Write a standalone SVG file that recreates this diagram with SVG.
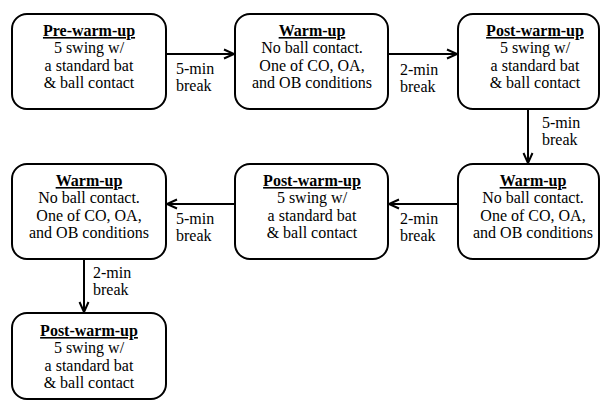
<svg xmlns="http://www.w3.org/2000/svg" width="600" height="401" viewBox="0 0 600 401" font-family="Times New Roman">
<rect width="600" height="401" fill="#fff"/>
<g id="connectors" fill="none" stroke="#000" stroke-width="2">
<line x1="166" y1="54" x2="234" y2="54"/>
<polyline points="224,49.5 234,54 224,58.5"/>
<line x1="388" y1="54" x2="457" y2="54"/>
<polyline points="447,49.5 457,54 447,58.5"/>
<line x1="528" y1="109" x2="528" y2="163"/>
<polyline points="523.5,153 528,163 532.5,153"/>
<line x1="458" y1="204" x2="389" y2="204"/>
<polyline points="399,199.5 389,204 399,208.5"/>
<line x1="235" y1="204" x2="167" y2="204"/>
<polyline points="177,199.5 167,204 177,208.5"/>
<line x1="84" y1="259" x2="84" y2="312"/>
<polyline points="79.5,302 84,312 88.5,302"/>
</g>
<g id="labels">
<text font-family="Times New Roman" font-size="16" x="176" y="74">5-min</text>
<text font-family="Times New Roman" font-size="16" x="176" y="91">break</text>
<text font-family="Times New Roman" font-size="16" x="400" y="75">2-min</text>
<text font-family="Times New Roman" font-size="16" x="400" y="92">break</text>
<text font-family="Times New Roman" font-size="16" x="542" y="128">5-min</text>
<text font-family="Times New Roman" font-size="16" x="542" y="145">break</text>
<text font-family="Times New Roman" font-size="16" x="400" y="224">2-min</text>
<text font-family="Times New Roman" font-size="16" x="400" y="241">break</text>
<text font-family="Times New Roman" font-size="16" x="176" y="224">5-min</text>
<text font-family="Times New Roman" font-size="16" x="176" y="241">break</text>
<text font-family="Times New Roman" font-size="16" x="93" y="278">2-min</text>
<text font-family="Times New Roman" font-size="16" x="93" y="295">break</text>
</g>
<g id="n1">
<rect x="12" y="14" width="154" height="95" rx="15" fill="#fff" stroke="#000" stroke-width="2"/>
<text font-family="Times New Roman" font-size="16" text-anchor="middle" font-weight="bold" text-decoration="underline" x="89" y="36">Pre-warm-up</text>
<text font-family="Times New Roman" font-size="16" text-anchor="middle" x="89" y="53">5 swing w/</text>
<text font-family="Times New Roman" font-size="16" text-anchor="middle" x="89" y="70.5">a standard bat</text>
<text font-family="Times New Roman" font-size="16" text-anchor="middle" x="89" y="88">&amp; ball contact</text>
</g>
<g id="n2">
<rect x="235" y="14" width="153" height="95" rx="15" fill="#fff" stroke="#000" stroke-width="2"/>
<text font-family="Times New Roman" font-size="16" text-anchor="middle" font-weight="bold" text-decoration="underline" x="312" y="36">Warm-up</text>
<text font-family="Times New Roman" font-size="16" text-anchor="middle" x="312" y="53">No ball contact.</text>
<text font-family="Times New Roman" font-size="16" text-anchor="middle" x="312" y="70.5">One of CO, OA,</text>
<text font-family="Times New Roman" font-size="16" text-anchor="middle" x="312" y="88">and OB conditions</text>
</g>
<g id="n3">
<rect x="458" y="14" width="141" height="95" rx="15" fill="#fff" stroke="#000" stroke-width="2"/>
<text font-family="Times New Roman" font-size="16" text-anchor="middle" font-weight="bold" text-decoration="underline" x="535" y="36">Post-warm-up</text>
<text font-family="Times New Roman" font-size="16" text-anchor="middle" x="535" y="53">5 swing w/</text>
<text font-family="Times New Roman" font-size="16" text-anchor="middle" x="535" y="70.5">a standard bat</text>
<text font-family="Times New Roman" font-size="16" text-anchor="middle" x="535" y="88">&amp; ball contact</text>
</g>
<g id="n4">
<rect x="458" y="164" width="141" height="95" rx="15" fill="#fff" stroke="#000" stroke-width="2"/>
<text font-family="Times New Roman" font-size="16" text-anchor="middle" font-weight="bold" text-decoration="underline" x="533" y="186">Warm-up</text>
<text font-family="Times New Roman" font-size="16" text-anchor="middle" x="533" y="203">No ball contact.</text>
<text font-family="Times New Roman" font-size="16" text-anchor="middle" x="533" y="220.5">One of CO, OA,</text>
<text font-family="Times New Roman" font-size="16" text-anchor="middle" x="533" y="238">and OB conditions</text>
</g>
<g id="n5">
<rect x="235" y="164" width="153" height="95" rx="15" fill="#fff" stroke="#000" stroke-width="2"/>
<text font-family="Times New Roman" font-size="16" text-anchor="middle" font-weight="bold" text-decoration="underline" x="312" y="186">Post-warm-up</text>
<text font-family="Times New Roman" font-size="16" text-anchor="middle" x="312" y="203">5 swing w/</text>
<text font-family="Times New Roman" font-size="16" text-anchor="middle" x="312" y="220.5">a standard bat</text>
<text font-family="Times New Roman" font-size="16" text-anchor="middle" x="312" y="238">&amp; ball contact</text>
</g>
<g id="n6">
<rect x="12" y="164" width="154" height="95" rx="15" fill="#fff" stroke="#000" stroke-width="2"/>
<text font-family="Times New Roman" font-size="16" text-anchor="middle" font-weight="bold" text-decoration="underline" x="89" y="186">Warm-up</text>
<text font-family="Times New Roman" font-size="16" text-anchor="middle" x="89" y="203">No ball contact.</text>
<text font-family="Times New Roman" font-size="16" text-anchor="middle" x="89" y="220.5">One of CO, OA,</text>
<text font-family="Times New Roman" font-size="16" text-anchor="middle" x="89" y="238">and OB conditions</text>
</g>
<g id="n7">
<rect x="12" y="313" width="154" height="86" rx="15" fill="#fff" stroke="#000" stroke-width="2"/>
<text font-family="Times New Roman" font-size="16" text-anchor="middle" font-weight="bold" text-decoration="underline" x="89" y="336">Post-warm-up</text>
<text font-family="Times New Roman" font-size="16" text-anchor="middle" x="89" y="353">5 swing w/</text>
<text font-family="Times New Roman" font-size="16" text-anchor="middle" x="89" y="370.5">a standard bat</text>
<text font-family="Times New Roman" font-size="16" text-anchor="middle" x="89" y="388">&amp; ball contact</text>
</g>
</svg>
